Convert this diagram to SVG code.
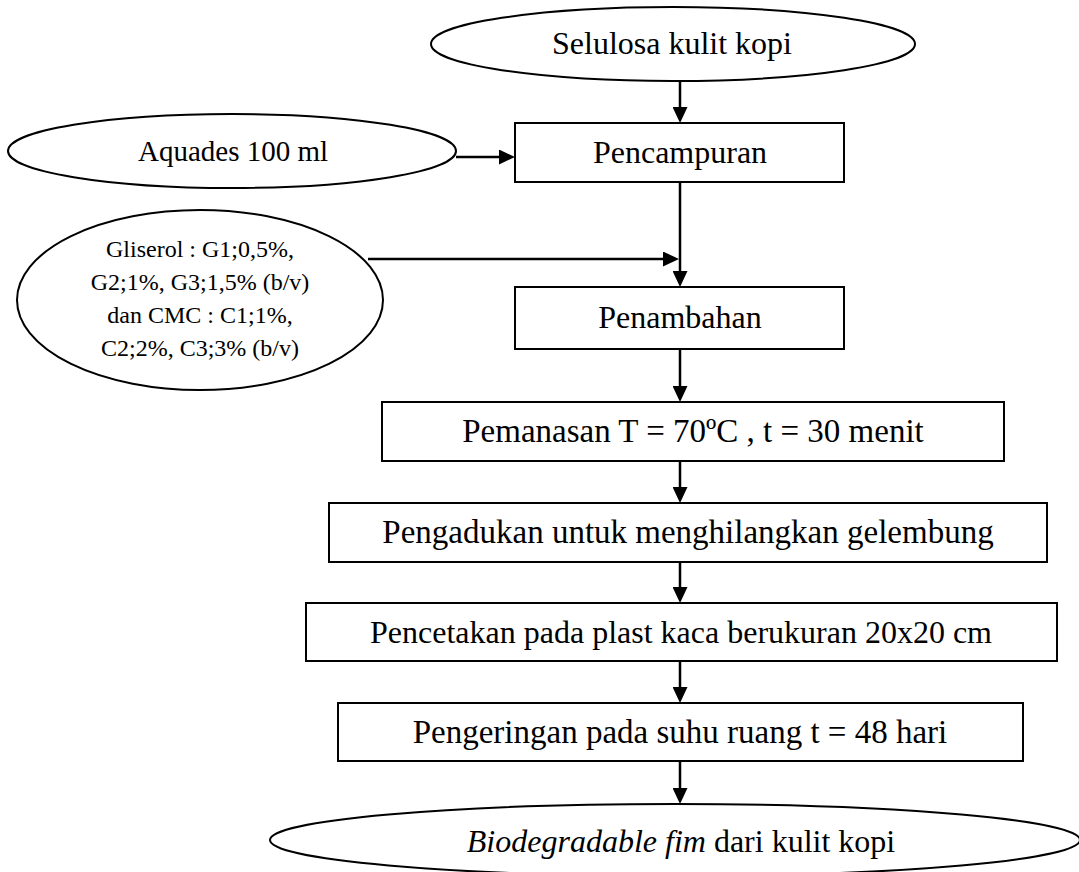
<svg xmlns="http://www.w3.org/2000/svg" width="1079" height="872" viewBox="0 0 1079 872">
<style>
.shape{fill:#fff;stroke:#000;stroke-width:2}
.t{font-family:"Liberation Serif","Times New Roman",serif;fill:#000;text-anchor:middle}
.big{font-size:33px}
.mid{font-size:32px}
.small{font-size:24px}
.con{stroke:#000;stroke-width:2.5;fill:none;marker-end:url(#arr)}
</style>
<defs>
<marker id="arr" markerUnits="userSpaceOnUse" markerWidth="16" markerHeight="15" refX="8" refY="7.5" orient="auto">
<path d="M0,0 L16,7.5 L0,15 z" fill="#000"/>
</marker>
</defs>
<rect width="1079" height="872" fill="#fff"/>
<g id="connectors">
<line class="con" x1="680" y1="81" x2="680" y2="115"/>
<line class="con" x1="456" y1="157" x2="507" y2="157"/>
<line class="con" x1="680" y1="182" x2="680" y2="279"/>
<line class="con" x1="368" y1="259" x2="671" y2="259"/>
<line class="con" x1="680" y1="349" x2="680" y2="394"/>
<line class="con" x1="680" y1="461" x2="680" y2="495"/>
<line class="con" x1="680" y1="562" x2="680" y2="595"/>
<line class="con" x1="680" y1="661" x2="680" y2="695"/>
<line class="con" x1="680" y1="761" x2="680" y2="796"/>
</g>
<g id="selulosa">
<ellipse class="shape" cx="673" cy="44" rx="242" ry="37"/>
<text class="t mid" x="672" y="54">Selulosa kulit kopi</text>
</g>
<g id="aquades">
<ellipse class="shape" cx="232" cy="151" rx="224" ry="37"/>
<text class="t" font-size="29" x="233" y="161">Aquades 100 ml</text>
</g>
<g id="pencampuran">
<rect class="shape" x="515" y="123" width="329" height="59"/>
<text class="t mid" x="680" y="163">Pencampuran</text>
</g>
<g id="gliserol">
<ellipse class="shape" cx="200" cy="300" rx="183" ry="90"/>
<text class="t small" x="200" y="257">Gliserol : G1;0,5%,</text>
<text class="t small" x="200" y="290">G2;1%, G3;1,5% (b/v)</text>
<text class="t small" x="200" y="323">dan CMC : C1;1%,</text>
<text class="t small" x="200" y="356">C2;2%, C3;3% (b/v)</text>
</g>
<g id="penambahan">
<rect class="shape" x="515" y="287" width="329" height="62"/>
<text class="t mid" x="680" y="328">Penambahan</text>
</g>
<g id="pemanasan">
<rect class="shape" x="382" y="402" width="622" height="59"/>
<text class="t big" x="693" y="442">Pemanasan T = 70ºC , t = 30 menit</text>
</g>
<g id="pengadukan">
<rect class="shape" x="329" y="503" width="718" height="59"/>
<text class="t big" x="688" y="543">Pengadukan untuk menghilangkan gelembung</text>
</g>
<g id="pencetakan">
<rect class="shape" x="306" y="603" width="751" height="58"/>
<text class="t mid" x="681" y="643">Pencetakan pada plast kaca berukuran 20x20 cm</text>
</g>
<g id="pengeringan">
<rect class="shape" x="338" y="703" width="685" height="58"/>
<text class="t big" x="680" y="743">Pengeringan pada suhu ruang t = 48 hari</text>
</g>
<g id="biodegradable">
<ellipse class="shape" cx="675" cy="840" rx="405" ry="36"/>
<text class="t mid" x="681" y="852"><tspan font-style="italic">Biodegradable fim</tspan> dari kulit kopi</text>
</g>
</svg>
